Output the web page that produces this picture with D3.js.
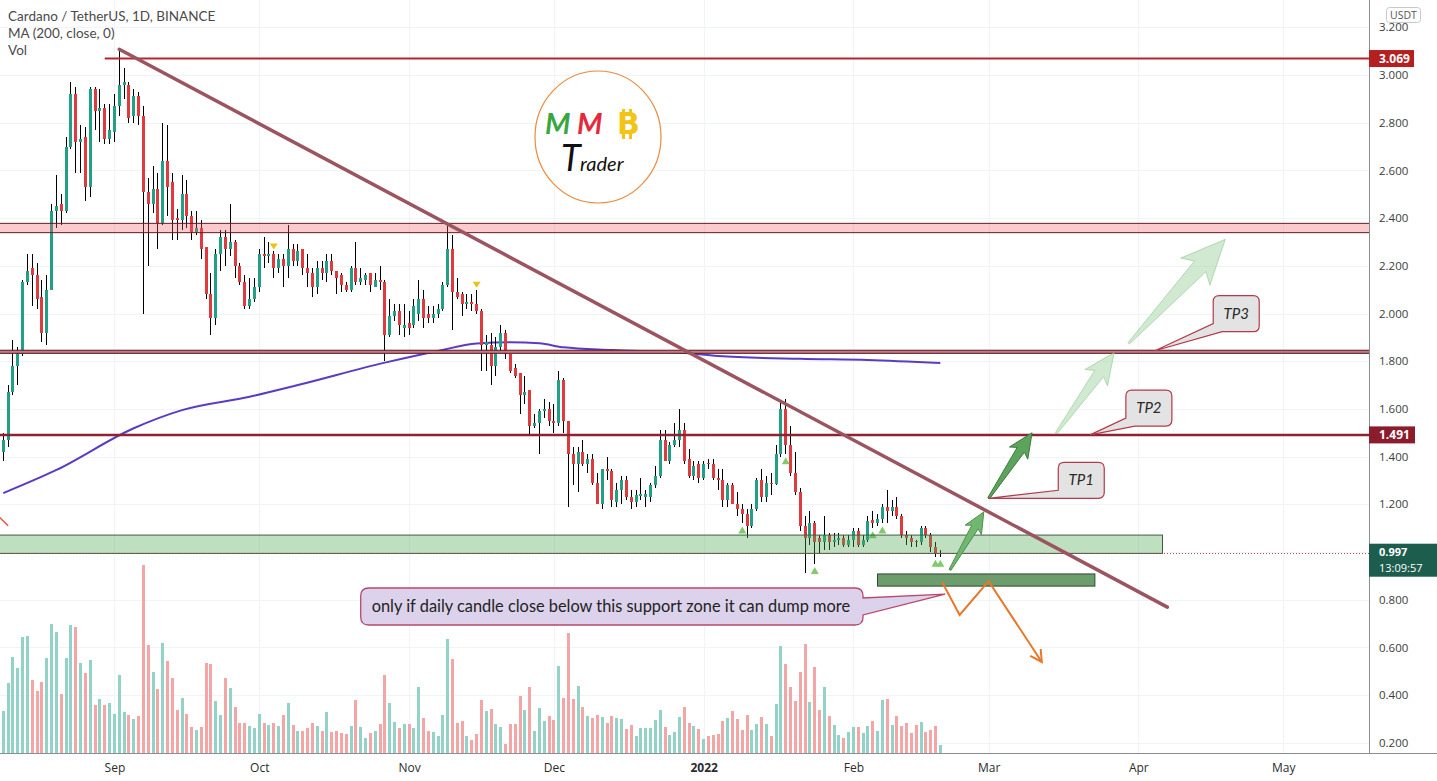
<!DOCTYPE html>
<html>
<head>
<meta charset="utf-8">
<script src="https://cdn.jsdelivr.net/npm/d3@7"></script>
<style>
  body { margin: 0; background: #fff; overflow: hidden; }
  svg { display: block; font-family: Lato, "Open Sans", sans-serif; }
</style>
</head>
<body>
<script>
// ---- data: ADA/USDT daily candles, [open, high, low, close], one array per month ----
const firstDay = "2021-08-09";

const augCandles = [
  [1.42,1.50,1.38,1.47],[1.47,1.70,1.44,1.67],[1.67,1.89,1.66,1.78],[1.78,1.86,1.70,1.83],
  [1.83,2.14,1.82,2.13],[2.13,2.25,2.12,2.18],[2.19,2.25,2.03,2.16],[2.16,2.21,2.02,2.06],
  [2.07,2.14,1.88,1.92],[1.92,2.16,1.87,2.10],[2.10,2.46,2.10,2.43],[2.43,2.58,2.36,2.45],
  [2.46,2.50,2.37,2.43],[2.43,2.74,2.42,2.70],[2.70,2.97,2.69,2.92],[2.92,2.95,2.59,2.72],
  [2.72,2.79,2.59,2.73],[2.74,2.78,2.47,2.53],[2.53,2.95,2.49,2.94],[2.94,2.95,2.77,2.85],
  [2.85,2.94,2.72,2.86],[2.86,2.88,2.71,2.73],[2.73,2.88,2.71,2.77]
];
const sepCandles = [
  [2.76,2.92,2.72,2.87],[2.87,3.10,2.83,2.96],[2.96,3.03,2.90,2.97],[2.96,2.97,2.80,2.82],
  [2.83,2.94,2.80,2.91],[2.91,2.93,2.79,2.83],[2.83,2.87,2.00,2.51],[2.51,2.57,2.20,2.46],
  [2.46,2.62,2.42,2.52],[2.52,2.59,2.27,2.38],[2.38,2.80,2.37,2.64],[2.64,2.79,2.41,2.53],
  [2.55,2.59,2.31,2.39],[2.40,2.44,2.31,2.39],[2.39,2.58,2.35,2.50],[2.50,2.56,2.36,2.41],
  [2.41,2.43,2.31,2.34],[2.34,2.43,2.33,2.36],[2.36,2.39,2.23,2.27],[2.28,2.28,2.06,2.08],
  [2.08,2.17,1.91,1.98],[1.98,2.27,1.95,2.25],[2.25,2.35,2.18,2.32],[2.32,2.35,2.20,2.27],
  [2.27,2.46,2.24,2.30],[2.30,2.31,2.15,2.20],[2.20,2.21,2.12,2.13],[2.13,2.16,2.02,2.03],
  [2.03,2.15,2.02,2.06],[2.06,2.15,2.05,2.11]
];
const octCandles = [
  [2.11,2.27,2.09,2.25],[2.25,2.32,2.19,2.24],[2.24,2.30,2.21,2.25],[2.25,2.26,2.15,2.19],
  [2.19,2.25,2.17,2.23],[2.23,2.25,2.11,2.20],[2.20,2.37,2.15,2.27],[2.27,2.29,2.20,2.22],
  [2.22,2.29,2.20,2.26],[2.27,2.27,2.16,2.19],[2.19,2.25,2.11,2.17],[2.17,2.19,2.07,2.11],
  [2.11,2.22,2.08,2.19],[2.19,2.22,2.14,2.17],[2.17,2.25,2.13,2.22],[2.22,2.25,2.16,2.18],
  [2.18,2.18,2.08,2.15],[2.16,2.17,2.09,2.12],[2.12,2.13,2.09,2.10],[2.10,2.20,2.09,2.19],
  [2.19,2.30,2.12,2.13],[2.13,2.19,2.12,2.15],[2.14,2.17,2.12,2.16],[2.17,2.17,2.09,2.12],
  [2.11,2.17,2.11,2.14],[2.14,2.20,2.10,2.13],[2.13,2.14,1.80,1.91],[1.91,2.06,1.90,1.99],
  [1.99,2.04,1.97,2.01],[2.01,2.04,1.91,1.95],[1.94,2.04,1.90,1.95]
];
const novCandles = [
  [1.96,2.01,1.91,1.94],[1.95,2.06,1.94,2.03],[2.00,2.14,1.97,2.06],[2.06,2.10,1.94,1.98],
  [2.00,2.03,1.96,1.98],[1.98,2.03,1.96,2.00],[2.00,2.04,1.98,2.02],[2.02,2.13,2.01,2.12],
  [2.12,2.37,2.11,2.27],[2.27,2.33,1.93,2.09],[2.09,2.15,2.06,2.07],[2.08,2.09,1.99,2.04],
  [2.04,2.08,2.02,2.05],[2.05,2.08,2.01,2.04],[2.04,2.10,2.00,2.01],[2.01,2.02,1.76,1.87],
  [1.87,1.91,1.76,1.88],[1.87,1.92,1.70,1.78],[1.78,1.90,1.74,1.86],[1.86,1.95,1.84,1.92],
  [1.92,1.93,1.81,1.83],[1.83,1.83,1.75,1.76],[1.77,1.79,1.73,1.74],[1.75,1.75,1.58,1.66],
  [1.66,1.74,1.62,1.67],[1.68,1.68,1.49,1.53],[1.53,1.58,1.52,1.54],[1.54,1.60,1.41,1.59],
  [1.59,1.64,1.56,1.60],[1.60,1.63,1.53,1.55]
];
const decCandles = [
  [1.55,1.62,1.50,1.54],[1.54,1.76,1.53,1.72],[1.72,1.73,1.50,1.55],[1.55,1.55,1.19,1.41],
  [1.41,1.44,1.28,1.37],[1.37,1.44,1.25,1.42],[1.42,1.47,1.36,1.37],[1.37,1.41,1.33,1.39],
  [1.39,1.41,1.28,1.29],[1.29,1.33,1.20,1.20],[1.20,1.35,1.18,1.35],[1.35,1.40,1.30,1.34],
  [1.34,1.35,1.19,1.22],[1.21,1.29,1.19,1.26],[1.26,1.32,1.20,1.30],[1.30,1.32,1.22,1.23],
  [1.23,1.26,1.18,1.21],[1.21,1.26,1.19,1.24],[1.235,1.31,1.22,1.245],[1.232,1.26,1.19,1.242],
  [1.23,1.29,1.21,1.28],[1.28,1.36,1.27,1.32],[1.32,1.51,1.31,1.47],[1.47,1.51,1.38,1.38],
  [1.38,1.46,1.37,1.45],[1.45,1.54,1.44,1.47],[1.47,1.60,1.44,1.51],[1.51,1.54,1.37,1.38],
  [1.39,1.43,1.31,1.32],[1.32,1.38,1.30,1.36],[1.37,1.38,1.29,1.31]
];
const janCandles = [
  [1.31,1.38,1.30,1.37],[1.375,1.39,1.35,1.37],[1.37,1.39,1.30,1.31],[1.31,1.35,1.26,1.30],
  [1.30,1.35,1.19,1.22],[1.22,1.29,1.19,1.28],[1.28,1.29,1.20,1.20],[1.20,1.25,1.15,1.18],
  [1.18,1.20,1.12,1.16],[1.16,1.18,1.06,1.11],[1.11,1.20,1.10,1.18],[1.18,1.31,1.17,1.30],
  [1.30,1.35,1.21,1.23],[1.23,1.32,1.21,1.29],[1.29,1.33,1.24,1.285],[1.285,1.45,1.28,1.41],
  [1.41,1.63,1.40,1.60],[1.60,1.64,1.41,1.45],[1.45,1.53,1.32,1.33],[1.33,1.42,1.24,1.25],
  [1.25,1.27,1.09,1.11],[1.11,1.15,0.91,1.06],[1.06,1.17,1.03,1.12],[1.12,1.13,0.95,1.04],
  [1.06,1.07,0.99,1.04],[1.04,1.15,1.01,1.07],[1.07,1.08,1.01,1.04],[1.04,1.08,1.02,1.05],
  [1.05,1.08,1.03,1.06],[1.06,1.07,1.02,1.03],[1.03,1.07,1.02,1.05]
];
const febCandles = [
  [1.05,1.10,1.02,1.09],[1.09,1.10,1.02,1.03],[1.03,1.07,1.02,1.05],[1.05,1.15,1.04,1.13],
  [1.135,1.17,1.10,1.12],[1.12,1.16,1.11,1.14],[1.14,1.20,1.12,1.19],[1.19,1.26,1.12,1.17],
  [1.17,1.22,1.15,1.19],[1.19,1.23,1.14,1.15],[1.15,1.16,1.06,1.07],[1.07,1.09,1.03,1.06],
  [1.06,1.07,1.02,1.04],[1.045,1.05,1.02,1.04],[1.04,1.11,1.03,1.10],[1.10,1.11,1.06,1.07],
  [1.07,1.08,1.00,1.02],[1.02,1.04,0.98,0.99],[0.99,1.01,0.98,0.997]
];

// daily volume (x10M ADA), same order as the candles
const augVol = [41.7,70,96,85,115.7,117.3,73.3,62.3,71,95,129,121,59,95,128.3,126.3,90,80.3,93,48.3,54,48.3,50.3];
const sepVol = [39.3,78.3,41.3,38.3,34.3,37,188.3,107.7,81.3,64.3,110,92.3,75,43.3,55,39.3,26.3,23.3,26.3,90,89,52.3,38,75,65,46,30,30,27,25.3];
const octVol = [39,30,28,30,27,38,50.3,28.3,22.3,22.3,25,30,27,22.3,41.3,21,22.3,20,19,27,53.3,26,15,20,22.3,29,78.3,50.3,31.3,25.3,29];
const novVol = [29,25.3,66,35,22.3,21,17.3,38,114,94,30,32.3,17.3,13.3,19,53.3,41.7,44.3,29,26.3,9,29,29,57.3,43.3,66,22.3,45,31.7,37];
const decVol = [32.7,87.3,55,120,54.3,67.3,46,37,35,38,36,30,37,35,34.3,24.3,28,17.3,25.3,25.3,25.3,32.7,43.3,26.3,18.3,21.3,36,46,30,27,24.3];
const janVol = [14.3,17.3,18.3,19.3,32.3,35,42.3,34,23.3,38.3,23.3,29.3,36,29.3,17.3,49.3,107,89.3,65.7,52.3,80.7,109,51,86.3,43.3,66,37,28,18.3,15.3,21];
const febVol = [26.3,25.7,20,27,31.7,22.3,53.3,54.3,28.3,37,27,30,20,28,31.3,21.3,23.3,27,8.3];

// MA(200, close)
const maPoints = [
  ["2021-08-09",1.247],["2021-08-20",1.344],["2021-09-05",1.519],["2021-09-15",1.595],
  ["2021-09-29",1.651],["2021-10-09",1.700],["2021-10-27",1.794],["2021-11-07",1.843],
  ["2021-11-15",1.874],["2021-11-22",1.879],["2021-11-28",1.875],["2021-12-03",1.858],
  ["2021-12-13",1.847],["2021-12-27",1.836],["2022-01-04",1.822],["2022-01-21",1.810],
  ["2022-02-04",1.805],["2022-02-19",1.792]
];

const priceTicks = [0.2,0.4,0.6,0.8,1.0,1.2,1.4,1.6,1.8,2.0,2.2,2.4,2.6,2.8,3.0,3.2];
const monthTicks = ["2021-09-01","2021-10-01","2021-11-01","2021-12-01","2022-01-01","2022-02-01","2022-03-01","2022-04-01","2022-05-01"];
const monthLabels = ["Sep","Oct","Nov","Dec","2022","Feb","Mar","Apr","May"];

const yellowSignals = ["2021-10-04","2021-11-15"];
const greenSignals = ["2022-01-09","2022-01-18","2022-01-24","2022-02-05","2022-02-07","2022-02-18","2022-02-19"];

// ---- drawings (date, price) ----
const athRay = ["2021-08-30", 3.069];
const levelLine = 1.491;
const lastPrice = 0.997;
const countdown = "13:09:57";
const supplyBand = [2.339, 2.378];
const pivotBand = [1.833, 1.846];
const trendLine = [["2021-09-02", 3.108], ["2022-04-07", 0.769]];
const supportZone = [["2021-07-01", 1.071], ["2022-04-06", 0.994]];
const lowerZone = [["2022-02-06", 0.908], ["2022-03-23", 0.857]];
const bearPath = [["2022-02-19T08:00", 0.875], ["2022-02-23", 0.736], ["2022-03-01", 0.878], ["2022-03-12", 0.539]];
const leftFragment = [["2021-08-07", 1.17], ["2021-08-10", 1.11]];
const bullArrows = [
  [["2022-02-21", 0.925], ["2022-02-28", 1.168]],
  [["2022-03-01", 1.225], ["2022-03-10", 1.500]]
];
const projectedArrows = [
  [["2022-03-15", 1.498], ["2022-03-27", 1.836]],
  [["2022-03-30", 1.875], ["2022-04-19", 2.311]]
];
const targetNames = ["TP1", "TP2", "TP3"];
const targetTips = [["2022-03-01", 1.225], ["2022-03-22", 1.491], ["2022-04-04T10:00", 1.844]];
const targetBoxes = [["2022-03-15T10:00", 1.225], ["2022-03-29T10:00", 1.528], ["2022-04-16T12:00", 1.924]];
const noteText = "only if daily candle close below this support zone it can dump more";
const noteBox = [["2021-10-22", 0.849], ["2022-02-03", 0.694]];
const noteTip = ["2022-02-20", 0.823];

// ---- layout ----
const W = 1437, H = 781, plotR = 1369, plotB = 753;
const t = s => new Date(s.length === 10 ? s + "T00:00:00Z" : s + ":00Z");

const rows = [augCandles, sepCandles, octCandles, novCandles, decCandles, janCandles, febCandles].flat();
const vols = [augVol, sepVol, octVol, novVol, decVol, janVol, febVol].flat();
const candles = rows.map((r, i) => ({
  date: d3.utcDay.offset(t(firstDay), i), o: r[0], h: r[1], l: r[2], c: r[3], v: vols[i]
}));
const lastDate = candles[candles.length - 1].date;

const x = d3.scaleUtc().domain([t(firstDay), lastDate]).range([3.3, 3.3 + (candles.length - 1) * 4.83]);
const y = d3.scaleLinear().domain([0.2, 3.2]).range([742.8, 27.3]);
const yv = d3.scaleLinear().domain([0, d3.max(vols)]).range([plotB, 565]);
const X = d => x(t(d));

const UP = "#22a085", DOWN = "#e0393e";
const UPV = "#93d3c7", DOWNV = "#f4a6a6";

const svg = d3.select("body").append("svg").attr("width", W).attr("height", H);
svg.append("rect").attr("width", W).attr("height", H).attr("fill", "#fff");
svg.append("defs").append("clipPath").attr("id", "plot")
  .append("rect").attr("width", plotR).attr("height", plotB);
const plot = svg.append("g").attr("clip-path", "url(#plot)");

// grid
plot.append("g").selectAll("line").data(priceTicks).join("line")
  .attr("x1", 0).attr("x2", plotR)
  .attr("y1", d => Math.round(y(d)) + 0.5).attr("y2", d => Math.round(y(d)) + 0.5)
  .attr("stroke", "#f0f3fa");
plot.append("g").selectAll("line").data(monthTicks).join("line")
  .attr("y1", 0).attr("y2", plotB)
  .attr("x1", d => Math.round(X(d)) + 0.5).attr("x2", d => Math.round(X(d)) + 0.5)
  .attr("stroke", "#f0f3fa");

// logo
const logo = plot.append("g").attr("transform", "translate(598,137)");
logo.append("ellipse").attr("rx", 63).attr("ry", 66).attr("fill", "#fff").attr("stroke", "#ec8a3c").attr("stroke-width", 1.2);
logo.append("text").attr("x", -53).attr("y", -3).text("M")
  .attr("font-size", 29).attr("font-style", "italic").attr("font-weight", 700).attr("fill", "#3aa641");
logo.append("text").attr("x", -21).attr("y", -3).text("M")
  .attr("font-size", 29).attr("font-style", "italic").attr("font-weight", 700).attr("fill", "#e6283c");
const btc = logo.append("g").attr("fill", "#f2c417");
btc.append("text").attr("x", 19).attr("y", -3).text("B").attr("font-size", 30).attr("font-weight", 900).attr("font-family", "DejaVu Sans");
btc.append("rect").attr("x", 24).attr("y", -28).attr("width", 3).attr("height", 5);
btc.append("rect").attr("x", 31).attr("y", -28).attr("width", 3).attr("height", 5);
btc.append("rect").attr("x", 24).attr("y", -3).attr("width", 3).attr("height", 5);
btc.append("rect").attr("x", 31).attr("y", -3).attr("width", 3).attr("height", 5);
logo.append("text").attr("x", -37).attr("y", 34).text("T")
  .attr("font-size", 36).attr("font-style", "italic").attr("fill", "#111");
logo.append("text").attr("x", -18).attr("y", 34).text("rader")
  .attr("font-size", 20).attr("font-style", "italic").attr("fill", "#111");

// volume
plot.append("g").selectAll("rect").data(candles).join("rect")
  .attr("x", d => x(d.date) - 1.5).attr("width", 3)
  .attr("y", d => yv(d.v)).attr("height", d => plotB - yv(d.v))
  .attr("fill", d => d.c >= d.o ? UPV : DOWNV)
  .attr("shape-rendering", "crispEdges");

// MA 200
plot.append("path")
  .attr("d", d3.line().curve(d3.curveMonotoneX).x(d => X(d[0])).y(d => y(d[1]))(maPoints))
  .attr("fill", "none").attr("stroke", "#5a3cc4").attr("stroke-width", 2);

// candles
const cg = plot.append("g").attr("shape-rendering", "crispEdges");
cg.selectAll("line").data(candles).join("line")
  .attr("x1", d => x(d.date)).attr("x2", d => x(d.date))
  .attr("y1", d => y(d.h)).attr("y2", d => y(d.l))
  .attr("stroke", "#000").attr("stroke-width", 1);
cg.selectAll("rect").data(candles).join("rect")
  .attr("x", d => x(d.date) - 1.5).attr("width", 3)
  .attr("y", d => y(Math.max(d.o, d.c)))
  .attr("height", d => Math.max(1, Math.abs(y(d.o) - y(d.c))))
  .attr("fill", d => d.c >= d.o ? UP : DOWN);

// signal markers
const byDate = new Map(candles.map(d => [+d.date, d]));
plot.append("g").selectAll("path").data(yellowSignals).join("path")
  .attr("d", d => { const c = byDate.get(+t(d)); const cx = x(c.date), cy = y(c.h) - 5;
    return `M${cx - 4},${cy - 3}L${cx + 4},${cy - 3}L${cx},${cy + 3}Z`; })
  .attr("fill", "#e8c318");
plot.append("g").selectAll("path").data(greenSignals).join("path")
  .attr("d", d => { const c = byDate.get(+t(d)); const cx = x(c.date), cy = y(c.l) + 7;
    return `M${cx - 4},${cy + 3}L${cx + 4},${cy + 3}L${cx},${cy - 4}Z`; })
  .attr("fill", "#7fcb6c");

// zones and levels
const bandRect = (g, p0, p1, x0, x1, fill, stroke) => g.append("rect")
  .attr("x", x0).attr("width", x1 - x0)
  .attr("y", y(Math.max(p0, p1))).attr("height", Math.abs(y(p0) - y(p1)))
  .attr("fill", fill).attr("stroke", stroke).attr("stroke-width", 1);
const draw = plot.append("g");
bandRect(draw, supplyBand[0], supplyBand[1], -5, plotR + 5, "rgba(242,90,100,0.32)", "#5e1a26");
bandRect(draw, pivotBand[0], pivotBand[1], -5, plotR + 5, "#c07a84", "#5a1822");
bandRect(draw, supportZone[0][1], supportZone[1][1], X(supportZone[0][0]), X(supportZone[1][0]), "rgba(76,170,80,0.36)", "#3f5c42");
bandRect(draw, lowerZone[0][1], lowerZone[1][1], X(lowerZone[0][0]), X(lowerZone[1][0]), "#6d9d6d", "#2f4a30");

draw.append("line").attr("x1", 0).attr("x2", plotR).attr("y1", y(levelLine)).attr("y2", y(levelLine))
  .attr("stroke", "#8c2232").attr("stroke-width", 2.5);
draw.append("line").attr("x1", X(athRay[0])).attr("x2", plotR).attr("y1", y(athRay[1])).attr("y2", y(athRay[1]))
  .attr("stroke", "#b3262f").attr("stroke-width", 2);
draw.append("line").attr("x1", 0).attr("x2", plotR).attr("y1", Math.round(y(lastPrice)) + 0.5).attr("y2", Math.round(y(lastPrice)) + 0.5)
  .attr("stroke", "#c2464f").attr("stroke-width", 1).attr("stroke-dasharray", "1,2");

// trend line
draw.append("line")
  .attr("x1", X(trendLine[0][0])).attr("y1", y(trendLine[0][1]))
  .attr("x2", X(trendLine[1][0])).attr("y2", y(trendLine[1][1]))
  .attr("stroke", "#9b5560").attr("stroke-width", 3.5).attr("stroke-linecap", "round");

draw.append("line")
  .attr("x1", X(leftFragment[0][0])).attr("y1", y(leftFragment[0][1]))
  .attr("x2", X(leftFragment[1][0])).attr("y2", y(leftFragment[1][1]))
  .attr("stroke", "#e05a3c").attr("stroke-width", 1.5);

// bearish path
const bp = bearPath.map(d => [X(d[0]), y(d[1])]);
draw.append("path").attr("d", d3.line()(bp)).attr("fill", "none")
  .attr("stroke", "#e8772a").attr("stroke-width", 2).attr("stroke-linejoin", "miter");
{
  const [ax, ay] = bp[bp.length - 2], [bx, by] = bp[bp.length - 1];
  const a = Math.atan2(by - ay, bx - ax), hl = 13;
  const p1 = [bx - hl * Math.cos(a - 0.5), by - hl * Math.sin(a - 0.5)];
  const p2 = [bx - hl * Math.cos(a + 0.5), by - hl * Math.sin(a + 0.5)];
  draw.append("path").attr("d", `M${p1}L${bx},${by}L${p2}`).attr("fill", "none")
    .attr("stroke", "#e8772a").attr("stroke-width", 2);
}

// arrows
function arrowPts(x0, y0, x1, y1) {
  const dx = x1 - x0, dy = y1 - y0, L = Math.hypot(dx, dy);
  const ux = dx / L, uy = dy / L, nx = -uy, ny = ux;
  const hl = 0.26 * L, hw = 0.14 * L, sw = 0.055 * L;
  const bx = x1 - ux * hl, by = y1 - uy * hl;
  const wx = bx - ux * 0.05 * L, wy = by - uy * 0.05 * L;
  return [[x0 + nx, y0 + ny], [bx + nx * sw, by + ny * sw], [wx + nx * hw, wy + ny * hw], [x1, y1],
          [wx - nx * hw, wy - ny * hw], [bx - nx * sw, by - ny * sw], [x0 - nx, y0 - ny]];
}
const arrowFills = [["#70b870", "#4e8e4e"], ["#5ca35c", "#3e7a3e"]];
bullArrows.forEach((a, i) => {
  draw.append("polygon").attr("points", arrowPts(X(a[0][0]), y(a[0][1]), X(a[1][0]), y(a[1][1])).join(" "))
    .attr("fill", arrowFills[i][0]).attr("stroke", arrowFills[i][1]).attr("stroke-width", 1).attr("stroke-linejoin", "round");
});
projectedArrows.forEach(a => {
  draw.append("polygon").attr("points", arrowPts(X(a[0][0]), y(a[0][1]), X(a[1][0]), y(a[1][1])).join(" "))
    .attr("fill", "rgba(170,215,170,0.55)").attr("stroke", "rgba(140,200,140,0.6)").attr("stroke-width", 1).attr("stroke-linejoin", "round");
});

// target callouts (TP1..TP3)
const boxW = 46, boxH = 36, r = 6;
targetNames.forEach((name, i) => {
  const x0 = X(targetBoxes[i][0]), y1 = y(targetBoxes[i][1]), x1 = x0 + boxW, y0 = y1 - boxH;
  const tx = X(targetTips[i][0]), ty = y(targetTips[i][1]);
  const path = `M${x0 + r},${y0}H${x1 - r}Q${x1},${y0} ${x1},${y0 + r}V${y1 - r}Q${x1},${y1} ${x1 - r},${y1}` +
    `H${x0 + 9}L${tx},${ty}L${x0},${y1 - 8}V${y0 + r}Q${x0},${y0} ${x0 + r},${y0}Z`;
  draw.append("path").attr("d", path).attr("fill", "#e3e3e3").attr("stroke", "#b33a4b").attr("stroke-width", 1.2);
  draw.append("text").attr("x", x0 + boxW / 2).attr("y", y0 + boxH / 2 + 5).attr("text-anchor", "middle")
    .attr("font-size", 15).attr("font-style", "italic").attr("fill", "#2a2a2a").text(name);
});

// warning note
{
  const x0 = X(noteBox[0][0]), y0 = y(noteBox[0][1]), x1 = X(noteBox[1][0]), y1 = y(noteBox[1][1]);
  const tx = X(noteTip[0]), ty = y(noteTip[1]), rr = 8;
  const path = `M${x0 + rr},${y0}H${x1 - rr}Q${x1},${y0} ${x1},${y0 + rr}V${y0 + 10}L${tx},${ty}L${x1},${y1 - 10}` +
    `V${y1 - rr}Q${x1},${y1} ${x1 - rr},${y1}H${x0 + rr}Q${x0},${y1} ${x0},${y1 - rr}V${y0 + rr}Q${x0},${y0} ${x0 + rr},${y0}Z`;
  draw.append("path").attr("d", path).attr("fill", "#dcd2ec").attr("stroke", "#b9486a").attr("stroke-width", 1.3);
  draw.append("text").attr("x", x0 + 11).attr("y", (y0 + y1) / 2 + 6)
    .attr("font-size", 16.5).attr("fill", "#222")
    .attr("textLength", x1 - x0 - 24).attr("lengthAdjust", "spacingAndGlyphs").text(noteText);
}

// legend
const legend = svg.append("g").attr("fill", "#4a4a4a").attr("font-size", 13.5);
legend.append("text").attr("x", 8).attr("y", 21).text("Cardano / TetherUS, 1D, BINANCE");
legend.append("text").attr("x", 8).attr("y", 38).text("MA (200, close, 0)");
legend.append("text").attr("x", 8).attr("y", 55).text("Vol");

// axes (the tick hidden under the last-price tag is not labelled)
svg.append("rect").attr("x", plotR).attr("y", 0).attr("width", W - plotR).attr("height", H).attr("fill", "#fff");
svg.append("rect").attr("x", 0).attr("y", plotB).attr("width", W).attr("height", H - plotB).attr("fill", "#fff");
const labelledTicks = priceTicks.filter(p => Math.abs(y(p) - y(lastPrice)) > 22);
const ya = svg.append("g").attr("transform", `translate(${plotR},0)`)
  .call(d3.axisRight(y).tickValues(labelledTicks).tickFormat(d3.format(".3f")).tickSize(0).tickPadding(10));
ya.select(".domain").remove();
ya.attr("font-family", "'Open Sans', sans-serif").attr("font-size", 11.5);
ya.selectAll("text").attr("fill", "#3c3c3c");

const xa = svg.append("g").attr("transform", `translate(0,${plotB})`)
  .call(d3.axisBottom(x).tickValues(monthTicks.map(t)).tickFormat((d, i) => monthLabels[i]).tickSize(0).tickPadding(10));
xa.select(".domain").remove();
xa.attr("font-family", "'Open Sans', sans-serif").attr("font-size", 12);
xa.selectAll("text").attr("fill", "#2c2c2c").attr("font-weight", (d, i) => monthLabels[i] === "2022" ? 700 : 400);

svg.append("line").attr("x1", plotR + 0.5).attr("x2", plotR + 0.5).attr("y1", 0).attr("y2", plotB)
  .attr("stroke", "#8a8d96");
svg.append("line").attr("x1", 0).attr("x2", W).attr("y1", plotB + 0.5).attr("y2", plotB + 0.5)
  .attr("stroke", "#8a8d96");

// price labels
const priceTag = (p, w, bg) => {
  const cy = y(p);
  svg.append("rect").attr("x", plotR).attr("y", cy - 8.5).attr("width", w).attr("height", 17).attr("fill", bg);
  svg.append("text").attr("x", plotR + 10).attr("y", cy + 4.5).attr("fill", "#fff")
    .attr("font-family", "'Open Sans', sans-serif").attr("font-size", 12).attr("font-weight", 700).text(p.toFixed(3));
};
priceTag(athRay[1], 45, "#b3201f");
priceTag(levelLine, 46, "#8a1c2b");
{
  const cy = y(lastPrice);
  svg.append("rect").attr("x", plotR).attr("y", cy - 9).attr("width", W - plotR).attr("height", 33).attr("fill", "#1d5d4e");
  svg.append("text").attr("x", plotR + 10).attr("y", cy + 3).attr("fill", "#fff")
    .attr("font-family", "'Open Sans', sans-serif").attr("font-size", 11).attr("font-weight", 700).text(lastPrice.toFixed(3));
  svg.append("text").attr("x", plotR + 10).attr("y", cy + 19.5).attr("fill", "#fff")
    .attr("font-family", "'Open Sans', sans-serif").attr("font-size", 11).text(countdown);
}
svg.append("rect").attr("x", 1386.5).attr("y", 7.5).attr("width", 34).attr("height", 15).attr("rx", 3)
  .attr("fill", "#fff").attr("stroke", "#c9c9c9");
svg.append("text").attr("x", 1403.5).attr("y", 19).attr("text-anchor", "middle").attr("fill", "#555")
  .attr("font-family", "'Open Sans', sans-serif").attr("font-size", 10.5).text("USDT");
</script>
</body>
</html>
